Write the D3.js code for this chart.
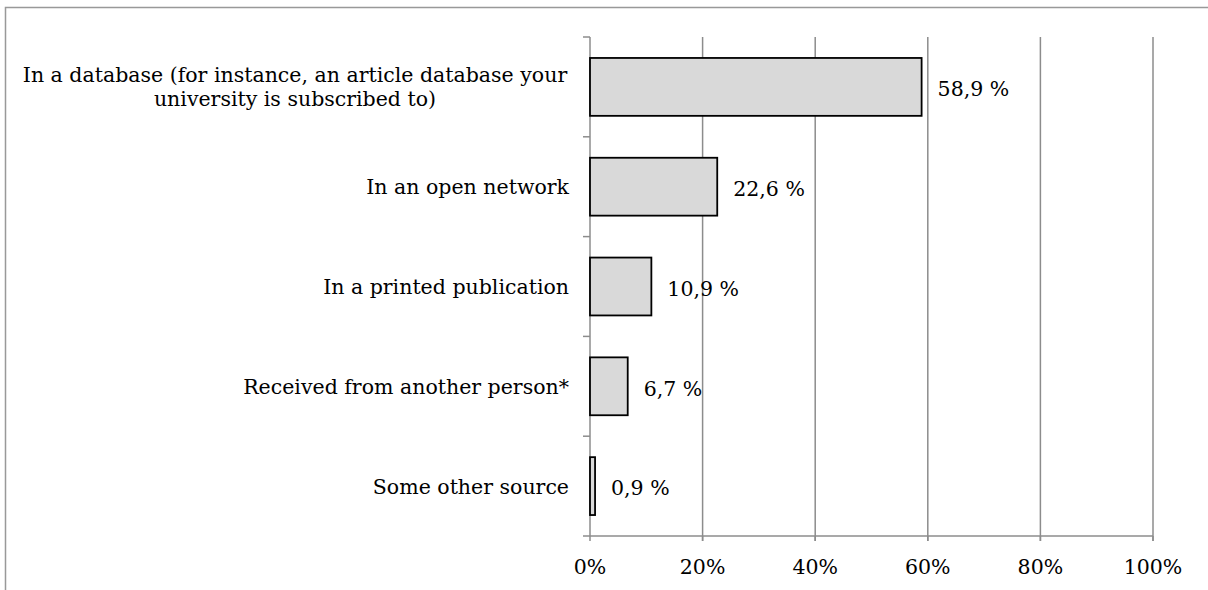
<!DOCTYPE html>
<html><head><meta charset="utf-8">
<script src="https://cdn.jsdelivr.net/npm/d3@7"></script>
<style>body{margin:0;background:#fff}svg text{font-family:"DejaVu Serif",serif;fill:#000}</style>
</head><body>
<svg id="c" width="1208" height="590"></svg>
<script>
const categories = ["In a database (for instance, an article database your|university is subscribed to)","In an open network","In a printed publication","Received from another person*","Some other source"];
const values = [58.9, 22.6, 10.9, 6.7, 0.9];
const valueLabels = ["58,9 %","22,6 %","10,9 %","6,7 %","0,9 %"];
const ticks = [0,20,40,60,80,100];
const tickLabels = ["0%","20%","40%","60%","80%","100%"];

const svg = d3.select("#c");
const fs = 20.5;
svg.append("path").attr("d","M5.5,590 V7.5 H1208").attr("fill","none").attr("stroke","#999").attr("stroke-width",1.5);

const L=590, R=1153, T=37, B=536;
const x = d3.scaleLinear().domain([0,100]).range([L,R]);
const y = d3.scaleBand().domain(categories).range([T,B]).paddingInner(0.42).paddingOuter(0.21);
const yb = d3.scaleBand().domain(categories).range([T,B]);

// gridlines
svg.append("g").selectAll("line").data(ticks.slice(1)).join("line")
  .attr("x1",d=>x(d)).attr("x2",d=>x(d)).attr("y1",T).attr("y2",B+5)
  .attr("stroke","#8c8c8c").attr("stroke-width",1.5);

// x axis line and ticks
svg.append("line").attr("x1",L-7).attr("x2",R).attr("y1",B).attr("y2",B).attr("stroke","#8c8c8c").attr("stroke-width",1.5);
svg.append("g").selectAll("line").data(ticks).join("line")
  .attr("x1",d=>x(d)).attr("x2",d=>x(d)).attr("y1",B).attr("y2",B+5).attr("stroke","#8c8c8c").attr("stroke-width",1.5);
svg.append("g").selectAll("text").data(ticks).join("text")
  .attr("x",d=>x(d)).attr("y",B+38).attr("text-anchor","middle").attr("font-size",fs)
  .text((d,i)=>tickLabels[i]);

// y axis
svg.append("line").attr("x1",L).attr("x2",L).attr("y1",T).attr("y2",B).attr("stroke","#8c8c8c").attr("stroke-width",1.5);
const bandEdges = categories.map(c=>yb(c));
svg.append("g").selectAll("line").data(bandEdges).join("line")
  .attr("x1",L-7).attr("x2",L).attr("y1",d=>d).attr("y2",d=>d).attr("stroke","#8c8c8c").attr("stroke-width",1.5);

// bars
svg.append("g").selectAll("rect").data(values).join("rect")
  .attr("x",x(0)).attr("y",(d,i)=>y(categories[i]))
  .attr("width",d=>x(d)-x(0)).attr("height",y.bandwidth())
  .attr("fill","#d9d9d9").attr("stroke","#000").attr("stroke-width",1.8);

// value labels
svg.append("g").selectAll("text").data(values).join("text")
  .attr("x",d=>x(d)+16).attr("y",(d,i)=>y(categories[i])+y.bandwidth()/2)
  .attr("dy","0.45em").attr("font-size",fs).text((d,i)=>valueLabels[i]);

// category labels
const cl = svg.append("g").selectAll("text").data(categories).join("text")
  .attr("text-anchor","end").attr("font-size",fs)
  .attr("y",d=>y(d)+y.bandwidth()/2);
cl.each(function(d){
  const lines = d.split("|");
  const t = d3.select(this);
  const lh = 23.5;
  const x0 = 569;
  if(lines.length===1){
    t.append("tspan").attr("x",x0).attr("dy","0.38em").text(lines[0]);
  } else {
    t.attr("text-anchor","middle");
    lines.forEach((ln,i)=>{
      t.append("tspan").attr("x",295).attr("dy", i===0 ? (0.35-(lines.length-1)/2*lh/fs)+"em" : lh/fs+"em").text(ln);
    });
  }
});
</script>
</body></html>
